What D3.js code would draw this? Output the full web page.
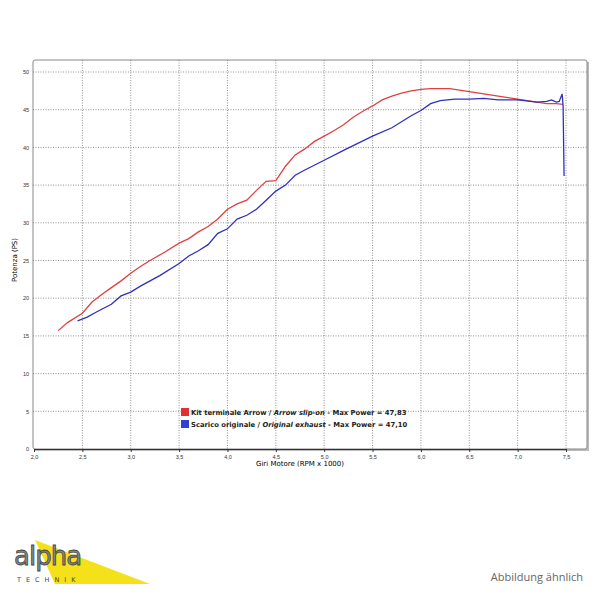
<!DOCTYPE html><html><head><meta charset="utf-8"><script src="https://cdn.jsdelivr.net/npm/d3@7"></script>
<style>body{margin:0;background:#fff}</style></head><body><svg id="c" width="600" height="600"></svg>
<script>
const redRpm=[2.25,2.35,2.5,2.6,2.7,2.8,2.9,3.0,3.1,3.2,3.35,3.5,3.6,3.7,3.8,3.9,4.0,4.1,4.2,4.3,4.4,4.5,4.6,4.7,4.8,4.9,5.0,5.1,5.2,5.3,5.4,5.5,5.6,5.7,5.8,5.9,6.0,6.1,6.2,6.3,6.4,6.5,6.6,6.7,6.8,6.9,7.0,7.1,7.2,7.3,7.4,7.47];
const redPs=[15.7,16.8,18,19.5,20.5,21.4,22.3,23.3,24.2,25,26.1,27.3,27.9,28.8,29.5,30.5,31.8,32.5,33,34.3,35.5,35.6,37.5,39,39.8,40.8,41.5,42.2,43,44,44.8,45.5,46.3,46.8,47.2,47.5,47.7,47.8,47.8,47.8,47.6,47.4,47.2,47,46.8,46.6,46.4,46.2,46.0,45.8,45.8,45.7];
const blueRpm=[2.45,2.55,2.65,2.8,2.9,3.0,3.1,3.3,3.5,3.6,3.7,3.8,3.9,4.0,4.1,4.2,4.3,4.4,4.5,4.6,4.7,4.8,5.0,5.2,5.5,5.7,5.9,6.0,6.1,6.2,6.35,6.5,6.65,6.8,7.0,7.2,7.3,7.35,7.4,7.43,7.46,7.47,7.48];
const bluePs=[17,17.5,18.2,19.2,20.3,20.8,21.6,23,24.6,25.6,26.3,27.1,28.6,29.2,30.5,31,31.8,33,34.2,35,36.3,37,38.3,39.6,41.5,42.6,44.2,44.9,45.8,46.2,46.4,46.4,46.5,46.3,46.3,46.0,46.1,46.3,46.0,46.1,47.1,45.5,36.2];
const xTicks=[2.0,2.5,3.0,3.5,4.0,4.5,5.0,5.5,6.0,6.5,7.0,7.5];
const yTicks=[0,5,10,15,20,25,30,35,40,45,50];
const svg=d3.select("#c");
const x=d3.scaleLinear().domain([2,7.5]).range([34,566]);
const y=d3.scaleLinear().domain([0,50]).range([449,72]);
const L=33,R=587,T=60,B=449;
svg.append("rect").attr("x",L+2).attr("y",T+2).attr("width",R-L).attr("height",B-T).attr("fill","#bbb");
svg.append("rect").attr("x",L).attr("y",T).attr("width",R-L).attr("height",B-T).attr("fill","#fff").attr("stroke","#888").attr("rx",2);
const g=svg.append("g");
xTicks.slice(1).forEach(t=>g.append("line").attr("x1",x(t)).attr("x2",x(t)).attr("y1",T).attr("y2",B).attr("stroke","#777").attr("stroke-dasharray","1,1.5").attr("stroke-width",0.8));
yTicks.slice(1).forEach(t=>g.append("line").attr("x1",L).attr("x2",R).attr("y1",y(t)).attr("y2",y(t)).attr("stroke","#777").attr("stroke-dasharray","1,1.5").attr("stroke-width",0.8));
const xa=svg.append("g").attr("transform",`translate(0,${B})`).call(d3.axisBottom(x).tickValues(xTicks).tickFormat(d=>d.toFixed(1).replace(".",",")).tickSize(3));
xa.selectAll("text").attr("font-size",5.5).attr("fill","#333");
xa.selectAll("path,line").attr("stroke","#333");
const ya=svg.append("g").attr("transform",`translate(${L},0)`).call(d3.axisLeft(y).tickValues(yTicks).tickSize(0));
ya.select("path").remove();
ya.selectAll("text").attr("font-size",5.5).attr("fill","#333").attr("dx",-1);
svg.append("text").attr("x",300).attr("y",466).attr("text-anchor","middle").attr("font-family","Verdana, DejaVu Sans").attr("font-size",7).text("Giri Motore (RPM x 1000)");
svg.append("text").attr("transform","translate(17,260) rotate(-90)").attr("text-anchor","middle").attr("font-family","Verdana, DejaVu Sans").attr("font-size",7).text("Potenza (PS)");
const line=d3.line().x(d=>x(d[0])).y(d=>y(d[1]));
svg.append("path").datum(redRpm.map((r,i)=>[r,redPs[i]])).attr("d",line).attr("fill","none").attr("stroke","#e04040").attr("stroke-width",1.3);
svg.append("path").datum(blueRpm.map((r,i)=>[r,bluePs[i]])).attr("d",line).attr("fill","none").attr("stroke","#3030c0").attr("stroke-width",1.3);
const leg=[["#e03030",["Kit terminale Arrow / ","Arrow slip-on"," - Max Power = 47,83"]],["#3040d0",["Scarico originale / ","Original exhaust"," - Max Power = 47,10"]]];
leg.forEach((l,i)=>{const yy=415+i*12;
svg.append("rect").attr("x",181).attr("y",yy-7).attr("width",8).attr("height",8).attr("fill",l[0]);
const t=svg.append("text").attr("x",191).attr("y",yy).attr("font-family","Verdana, DejaVu Sans").attr("font-weight","bold").attr("font-size",6.8).attr("fill","#222");
t.append("tspan").text(l[1][0]);t.append("tspan").attr("font-style","italic").text(l[1][1]);t.append("tspan").text(l[1][2]);});
svg.append("path").attr("d","M35,540 L150,584 L55,584 Z").attr("fill","#f4e11a");
svg.append("text").attr("x",14).attr("y",565).attr("font-family","DejaVu Sans").attr("font-size",26).attr("fill","#888").attr("stroke","#444").attr("stroke-width",0.8).attr("letter-spacing",-1).text("alpha");
svg.append("text").attr("x",17).attr("y",582).attr("font-family","DejaVu Sans").attr("font-size",6.5).attr("fill","#444").attr("letter-spacing",5).text("TECHNIK");
svg.append("text").attr("x",583).attr("y",581).attr("text-anchor","end").attr("font-family","Open Sans").attr("font-size",11).attr("fill","#666").text("Abbildung ähnlich");
</script></body></html>
